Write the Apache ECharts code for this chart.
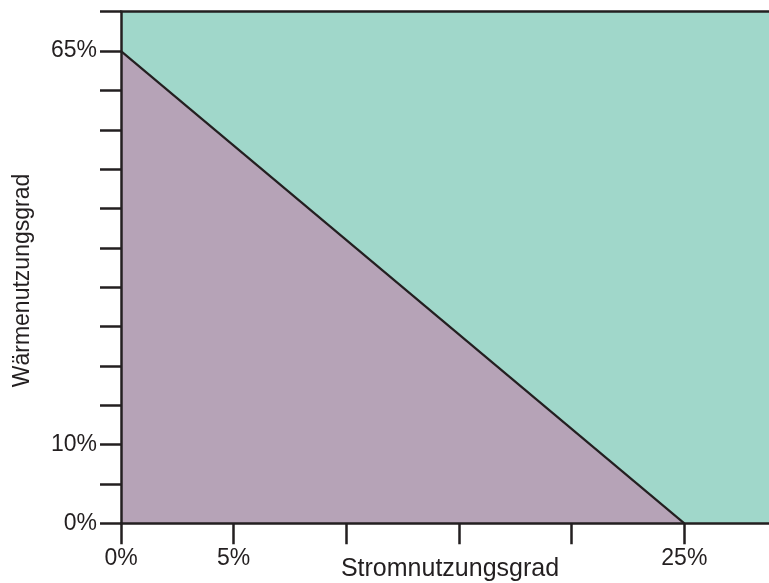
<!DOCTYPE html>
<html>
<head>
<meta charset="utf-8">
<script src="https://cdn.jsdelivr.net/npm/echarts@6/dist/echarts.min.js"></script>
<style>html,body{margin:0;padding:0;background:#fff}#c{width:769px;height:583px}</style>
</head>
<body>
<div id="c"></div>
<script>
// Schematic scale: y axis in tick units (0..13), labelled where the picture labels them
const xTicks = [0, 5, 10, 15, 20, 25];
const xLabels = { 0: '0%', 5: '5%', 25: '25%' };
const yTicks = [0,1,2,3,4,5,6,7,8,9,10,11,12,13];
const yLabels = { 0: '0%', 2: '10%', 12: '65%' };
const boundary = [[0, 12], [25, 0]];       // Grenzlinie
const fullArea = [[0, 13], [30, 13]];      // übriger Bereich
const xName = 'Stromnutzungsgrad';
const yName = 'Wärmenutzungsgrad';

const ink = '#231f20';
const chart = echarts.init(document.getElementById('c'), null, { renderer: 'canvas' });
const font = 'Liberation Sans, Arial, sans-serif';
chart.setOption({
  animation: false,
  grid: { left: 121, top: 11.7, bottom: 59.7, right: -28, containLabel: false, outerBoundsMode: 'none' },
  xAxis: [{
    type: 'value', min: 0, max: 30, z: 10,
    name: xName, nameLocation: 'middle', nameGap: 33, nameMoveOverlap: false,
    nameTextStyle: { fontFamily: font, fontSize: 25, color: ink, padding: [0, 18, 0, 0] },
    axisLine: { show: true, lineStyle: { color: ink, width: 2.5 } },
    axisTick: { show: true, length: 21, customValues: xTicks, lineStyle: { color: ink, width: 2.5 } },
    axisLabel: { customValues: [0, 5, 25], formatter: v => xLabels[v] || '', margin: 24, fontFamily: font, fontSize: 23, color: ink },
    splitLine: { show: false }
  }, {
    type: 'value', min: 0, max: 30, position: 'top', z: 10,
    axisLine: { show: true, lineStyle: { color: ink, width: 2.5 } },
    axisTick: { show: false }, axisLabel: { show: false }, splitLine: { show: false }
  }],
  yAxis: {
    type: 'value', min: 0, max: 13, z: 10,
    name: yName, nameLocation: 'middle', nameGap: 87, nameMoveOverlap: false,
    nameTextStyle: { fontFamily: font, fontSize: 23, color: ink, padding: [0, 26, 0, 0] },
    axisLine: { show: true, lineStyle: { color: ink, width: 2.5 } },
    axisTick: { show: true, length: 21, customValues: yTicks, lineStyle: { color: ink, width: 2.5 } },
    axisLabel: { customValues: [0, 2, 12], formatter: v => yLabels[v] || '', margin: 24, fontFamily: font, fontSize: 23, color: ink },
    splitLine: { show: false }
  },
  series: [{
    type: 'line', data: fullArea, symbol: 'none', z: 1,
    lineStyle: { width: 0 }, areaStyle: { color: '#a0d7ca', opacity: 1 }
  }, {
    type: 'line', data: boundary, symbol: 'none', z: 2,
    lineStyle: { color: ink, width: 2.2 }, areaStyle: { color: '#b6a3b7', opacity: 1 }
  }]
});
</script>
</body>
</html>
